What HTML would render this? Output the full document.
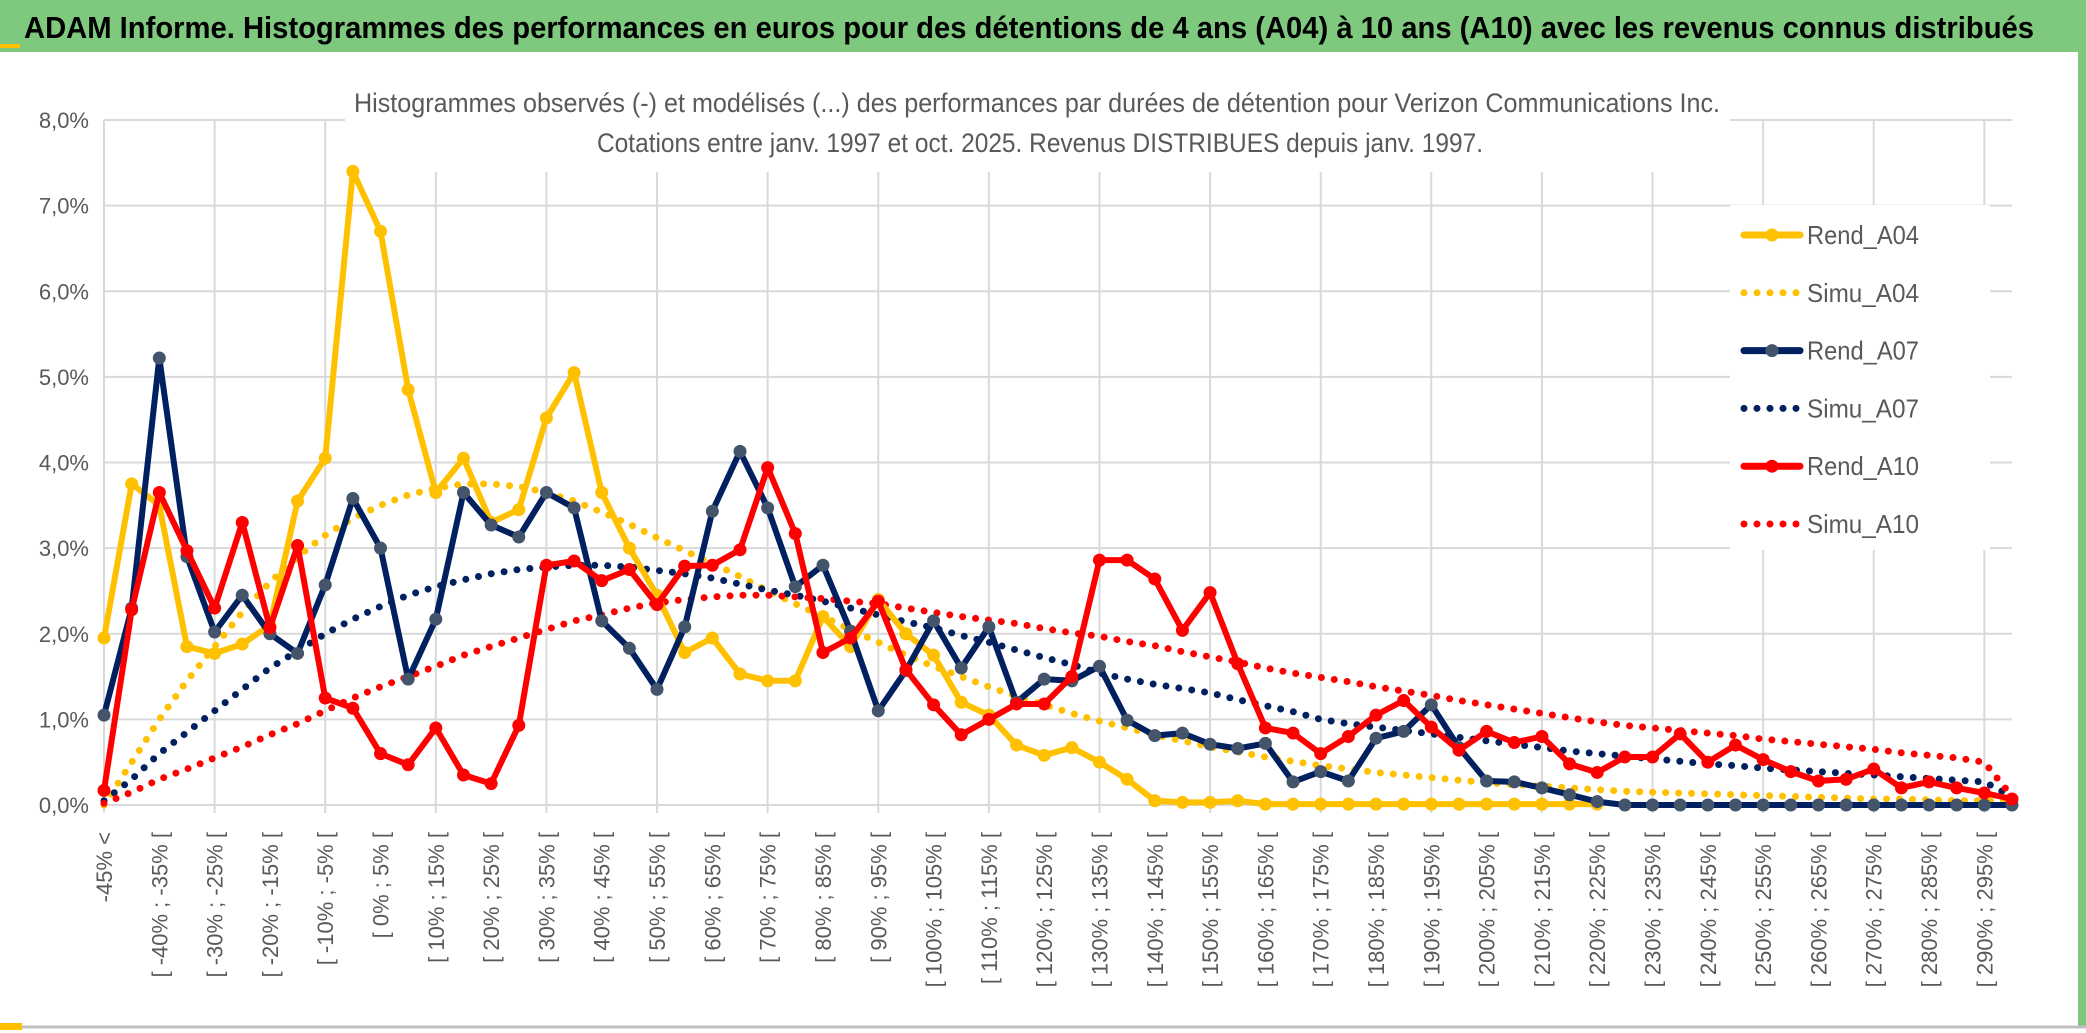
<!DOCTYPE html>
<html><head><meta charset="utf-8"><style>
html,body{margin:0;padding:0;background:#fff;}
svg{display:block;font-family:"Liberation Sans",sans-serif;}
</style></head><body>
<svg id="chart" width="2086" height="1033" viewBox="0 0 2086 1033" xmlns="http://www.w3.org/2000/svg">
<rect x="0" y="0" width="2086" height="1033" fill="#fff"/>
<rect x="0" y="0" width="2086" height="52" fill="#7ec97e"/>
<rect x="0" y="44" width="20" height="4" fill="#ffc000"/>
<text x="24" y="38" font-size="31" font-weight="bold" fill="#000" textLength="2010" lengthAdjust="spacingAndGlyphs">ADAM Informe. Histogrammes des performances en euros pour des détentions de 4 ans (A04) à 10 ans (A10) avec les revenus connus distribués</text>
<rect x="2078" y="52" width="8" height="975" fill="#7ec97e"/>
<line x1="0" y1="1027" x2="2086" y2="1027" stroke="#bfbfbf" stroke-width="3"/>
<rect x="0" y="1023" width="22" height="7" fill="#ffc000"/>
<g id="grid"></g>
<rect x="345" y="82" width="1385" height="90" fill="#fff"/>
<text x="1037" y="112" font-size="27" fill="#595959" text-anchor="middle" textLength="1366" lengthAdjust="spacingAndGlyphs">Histogrammes observés (-) et modélisés (...) des performances par durées de détention pour Verizon Communications Inc.</text>
<text x="1040" y="152" font-size="27" fill="#595959" text-anchor="middle" textLength="886" lengthAdjust="spacingAndGlyphs">Cotations entre janv. 1997 et oct. 2025. Revenus DISTRIBUES depuis janv. 1997.</text>
<g id="yaxis"></g>
<g id="xaxis"></g>
<g id="series"></g>
<g id="legend"></g>
</svg>
<script>
const yTicks = [0,1,2,3,4,5,6,7,8];
const rendA04 = [1.95,3.75,3.5,1.85,1.77,1.88,2.1,3.55,4.05,7.4,6.7,4.85,3.65,4.05,3.3,3.45,4.52,5.05,3.65,3.0,2.45,1.78,1.95,1.53,1.45,1.45,2.2,1.85,2.4,2.0,1.75,1.2,1.05,0.7,0.58,0.67,0.5,0.3,0.05,0.03,0.03,0.05,0.01,0.01,0.01,0.01,0.01,0.01,0.01,0.01,0.01,0.01,0.01,0.01,0.01,null,null,null,null,null,null,null,null,null,null,null,null,null,null,null];
const simuA04 = [0.0,0.5,1.0,1.45,1.85,2.25,2.6,2.9,3.15,3.35,3.5,3.62,3.7,3.75,3.75,3.72,3.65,3.55,3.42,3.28,3.12,2.97,2.82,2.67,2.5,2.35,2.2,2.05,1.9,1.75,1.62,1.5,1.38,1.27,1.17,1.07,0.98,0.9,0.82,0.75,0.68,0.62,0.56,0.51,0.46,0.42,0.38,0.35,0.32,0.29,0.26,0.24,0.22,0.2,0.18,0.16,0.15,0.14,0.13,0.12,0.11,0.1,0.09,0.08,0.07,0.07,0.06,0.05,0.05,0.04];
const rendA07 = [1.05,2.3,5.22,2.9,2.02,2.45,2.0,1.77,2.57,3.58,3.0,1.47,2.17,3.65,3.27,3.13,3.65,3.47,2.15,1.83,1.35,2.08,3.43,4.13,3.47,2.55,2.8,2.03,1.1,1.57,2.15,1.6,2.08,1.2,1.47,1.45,1.62,0.99,0.81,0.84,0.71,0.66,0.72,0.27,0.39,0.28,0.78,0.86,1.17,0.67,0.28,0.27,0.2,0.12,0.04,0,0,0,0,0,0,0,0,0,0,0,0,0,0,0];
const simuA07 = [0.05,0.3,0.6,0.85,1.1,1.35,1.6,1.8,2.0,2.17,2.32,2.45,2.55,2.63,2.7,2.75,2.78,2.8,2.8,2.78,2.74,2.7,2.65,2.58,2.51,2.45,2.38,2.3,2.22,2.14,2.07,1.98,1.9,1.81,1.72,1.64,1.54,1.47,1.41,1.36,1.31,1.23,1.16,1.09,1.0,0.95,0.91,0.87,0.83,0.79,0.75,0.71,0.67,0.63,0.6,0.57,0.54,0.51,0.48,0.46,0.43,0.41,0.39,0.37,0.35,0.33,0.31,0.29,0.27,0.1];
const rendA10 = [0.17,2.28,3.65,2.97,2.3,3.3,2.07,3.03,1.25,1.13,0.6,0.47,0.9,0.35,0.25,0.93,2.8,2.85,2.62,2.75,2.34,2.79,2.8,2.98,3.94,3.17,1.78,1.95,2.38,1.58,1.17,0.82,1.0,1.18,1.18,1.5,2.86,2.86,2.64,2.04,2.48,1.65,0.9,0.84,0.6,0.8,1.05,1.22,0.91,0.64,0.86,0.73,0.8,0.48,0.38,0.56,0.56,0.83,0.5,0.7,0.53,0.39,0.28,0.3,0.42,0.2,0.27,0.2,0.14,0.07];
const simuA10 = [0.02,0.15,0.3,0.42,0.55,0.68,0.82,0.95,1.1,1.25,1.38,1.5,1.62,1.75,1.85,1.95,2.05,2.15,2.22,2.3,2.36,2.4,2.43,2.45,2.45,2.43,2.41,2.38,2.35,2.3,2.25,2.2,2.16,2.12,2.06,2.01,1.97,1.91,1.86,1.79,1.73,1.67,1.6,1.54,1.49,1.44,1.38,1.33,1.28,1.22,1.17,1.12,1.07,1.02,0.97,0.93,0.9,0.87,0.84,0.81,0.77,0.74,0.71,0.68,0.65,0.61,0.58,0.55,0.5,0.1];
const categories = rendA04.map(function(_, k){ return k===0 ? "-45% <" : "[ " + (-50+5*k) + "% ; " + (-45+5*k) + "% ["; });
const legendLabels = ["Rend_A04","Simu_A04","Rend_A07","Simu_A07","Rend_A10","Simu_A10"];

const NS = "http://www.w3.org/2000/svg";
const X0 = 104, X1 = 2012, Y0 = 805, YTOP = 120, YMAX = 8;
function xPos(i){ return X0 + (X1 - X0) * i / (categories.length - 1); }
function yPos(v){ return Y0 - (Y0 - YTOP) * v / YMAX; }
function mk(tag, attrs, parent){ const e = document.createElementNS(NS, tag); for (const k in attrs) e.setAttribute(k, attrs[k]); parent.appendChild(e); return e; }

const grid = document.getElementById('grid');
yTicks.forEach(function(t){
  const l = mk('line', {x1: X0, x2: X1, y1: yPos(t), y2: yPos(t), stroke: '#d9d9d9', 'stroke-width': 2}, grid);
  
  
});
for (let i = 4; i < categories.length; i += 4) {
  const l = mk('line', {x1: xPos(i), x2: xPos(i), y1: YTOP, y2: Y0 + 8, stroke: '#d9d9d9', 'stroke-width': 2}, grid);
  
  
}
const ax = mk('line', {x1: X0, x2: X0, y1: YTOP, y2: Y0 + 8, stroke: '#d9d9d9', 'stroke-width': 2}, grid);



const yaxis = document.getElementById('yaxis');
yTicks.forEach(function(t){
  const tx = mk('text', {x: 89, y: yPos(t) + 8, 'font-size': 22, fill: '#595959', 'text-anchor': 'end'}, yaxis);
  tx.textContent = t.toFixed(1).replace('.', ',') + '%';
  
  
});

const xaxis = document.getElementById('xaxis');
categories.forEach(function(c, i){
  if (i % 2 !== 0) return;
  const x = xPos(i) + 8, y = 832;
  const tx = mk('text', {x: x, y: y, 'font-size': 22, fill: '#595959', 'text-anchor': 'end', transform: 'rotate(-90 ' + x + ' ' + y + ')'}, xaxis);
  tx.textContent = c;
  
  
});

const series = document.getElementById('series');
function drawDotted(vals, color, name){
  let d = '';
  vals.forEach(function(v, i){ if (v === null) return; d += (d ? 'L' : 'M') + xPos(i).toFixed(1) + ',' + yPos(v).toFixed(1); });
  const p = mk('path', {d: d, fill: 'none', stroke: color, 'stroke-width': 7, 'stroke-linecap': 'round', 'stroke-dasharray': '0 13'}, series);
  
  
}
function drawSolid(vals, color, mcolor, name){
  let d = '';
  vals.forEach(function(v, i){ if (v === null) return; d += (d ? 'L' : 'M') + xPos(i).toFixed(1) + ',' + yPos(v).toFixed(1); });
  const p = mk('path', {d: d, fill: 'none', stroke: color, 'stroke-width': 6, 'stroke-linejoin': 'round'}, series);
  
  
  vals.forEach(function(v, i){
    if (v === null) return;
    const c = mk('circle', {cx: xPos(i), cy: yPos(v), r: 6.5, fill: mcolor}, series);
    
    
  });
}
drawDotted(simuA04, '#ffc000', 'simu-a04-line');
drawDotted(simuA07, '#002060', 'simu-a07-line');
drawDotted(simuA10, '#ff0000', 'simu-a10-line');
drawSolid(rendA04, '#ffc000', '#ffc000', 'rend-a04');
drawSolid(rendA07, '#002060', '#44546a', 'rend-a07');
drawSolid(rendA10, '#ff0000', '#ff0000', 'rend-a10');

const legend = document.getElementById('legend');
const lb = mk('rect', {x: 1730, y: 205, width: 260, height: 345, fill: '#fff'}, legend);


const lColors = ['#ffc000','#ffc000','#002060','#002060','#ff0000','#ff0000'];
const lMark = ['#ffc000', null, '#44546a', null, '#ff0000', null];
legendLabels.forEach(function(lab, k){
  const y = 235 + k * 57.8;
  const g = mk('g', {}, legend);
  
  
  if (k % 2 === 0) {
    mk('line', {x1: 1744, x2: 1800, y1: y, y2: y, stroke: lColors[k], 'stroke-width': 7, 'stroke-linecap': 'round'}, g);
    mk('circle', {cx: 1772, cy: y, r: 6.5, fill: lMark[k]}, g);
  } else {
    mk('line', {x1: 1744, x2: 1798, y1: y, y2: y, stroke: lColors[k], 'stroke-width': 7, 'stroke-linecap': 'round', 'stroke-dasharray': '0 13'}, g);
  }
  const t = mk('text', {x: 1807, y: y + 9, 'font-size': 26, fill: '#595959', textLength: 112, lengthAdjust: 'spacingAndGlyphs'}, g);
  t.textContent = lab;
});
</script>
</body></html>
